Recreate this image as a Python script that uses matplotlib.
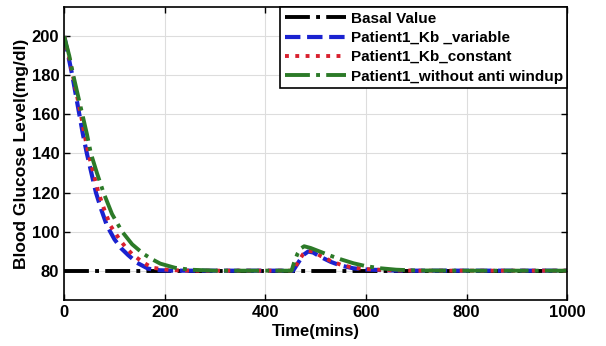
import matplotlib.pyplot as plt

plt.rcParams['font.family'] = ['Liberation Sans', 'DejaVu Sans']
plt.rcParams['font.weight'] = 'bold'

# ==========================================
# Data
# ==========================================
basal_t = [0, 1000]
basal_g = [80, 80]

var_t = [0, 8, 16, 23, 30, 37, 45, 54, 63, 74, 85, 100, 113, 127, 145, 167, 190, 220, 300, 455,
         465, 475, 485, 495, 510, 530, 550, 575, 600, 650, 700, 1000]
var_g = [200, 190, 180, 170, 160, 150, 140, 130, 120, 111, 103, 96, 91.5, 88, 84, 81, 80.2, 80, 80, 80,
         84, 88, 89.8, 89.3, 87, 84.5, 82.6, 81.2, 80.6, 80.1, 80, 80]

const_t = [0, 9, 17, 25, 33, 40, 48, 58, 68, 80, 92, 110, 122, 135, 155, 175, 210, 250, 300, 455,
           465, 475, 485, 495, 510, 530, 550, 575, 600, 650, 700, 1000]
const_g = [200, 190, 180, 170, 160, 150, 140, 130, 120, 111, 103, 96, 92, 88.5, 84.5, 81.5, 80.3, 80, 80, 80,
           84.5, 88.5, 90.2, 89.8, 87.5, 85, 83, 81.5, 80.8, 80.2, 80, 80]

noaw_t = [0, 10, 18, 27, 36, 45, 53, 65, 78, 95, 115, 135, 157, 175, 191, 220, 250, 300, 350, 452,
          458, 464, 470, 477, 490, 510, 530, 550, 575, 600, 630, 660, 700, 800, 1000]
noaw_g = [200, 190, 180, 170, 160, 150, 140, 130, 120, 109, 100, 93.5, 88.7, 85.8, 83.6, 81.5, 80.5, 80, 80, 80,
          85, 88.8, 91.3, 92.5, 91.6, 89.6, 87.6, 85.8, 83.8, 82.3, 81.2, 80.5, 80.1, 80, 80]

# ==========================================
# Plot
# ==========================================
fig = plt.figure(figsize=(6.06, 3.46), dpi=100)
ax = fig.add_axes([0.106, 0.133, 0.830, 0.847])

ax.plot(basal_t, basal_g, color='black', linestyle='-.', linewidth=2.8, label='Basal Value')
ax.plot(var_t, var_g, color='#1a22d0', linestyle='--', linewidth=3.0, label='Patient1_Kb _variable')
ax.plot(const_t, const_g, color='#d8202e', linestyle=':', linewidth=2.8, label='Patient1_Kb_constant')
ax.plot(noaw_t, noaw_g, color='#2c7a28', linestyle='-.', linewidth=2.8, label='Patient1_without anti windup')

ax.set_xlim(0, 1000)
ax.set_ylim(65, 215)
ax.set_xticks([0, 200, 400, 600, 800, 1000])
ax.set_yticks([80, 100, 120, 140, 160, 180, 200])
ax.tick_params(direction='in', top=True, right=True, labelsize=12, length=4, width=1)
ax.grid(True, color='#dddddd', linewidth=0.8)
for s in ax.spines.values():
    s.set_linewidth(1.2)
    s.set_color('black')

ax.set_xlabel('Time(mins)', fontsize=12, fontweight='bold', labelpad=3)
ax.set_ylabel('Blood Glucose Level(mg/dl)', fontsize=12.5, fontweight='bold', labelpad=2)

leg = ax.legend(loc='upper right', borderaxespad=0, fancybox=False, edgecolor='black',
                framealpha=1, fontsize=11, handlelength=4.0, handletextpad=0.3,
                labelspacing=0.35, borderpad=0.3)
leg.get_frame().set_linewidth(1.2)

fig.savefig('out.png', dpi=100)
